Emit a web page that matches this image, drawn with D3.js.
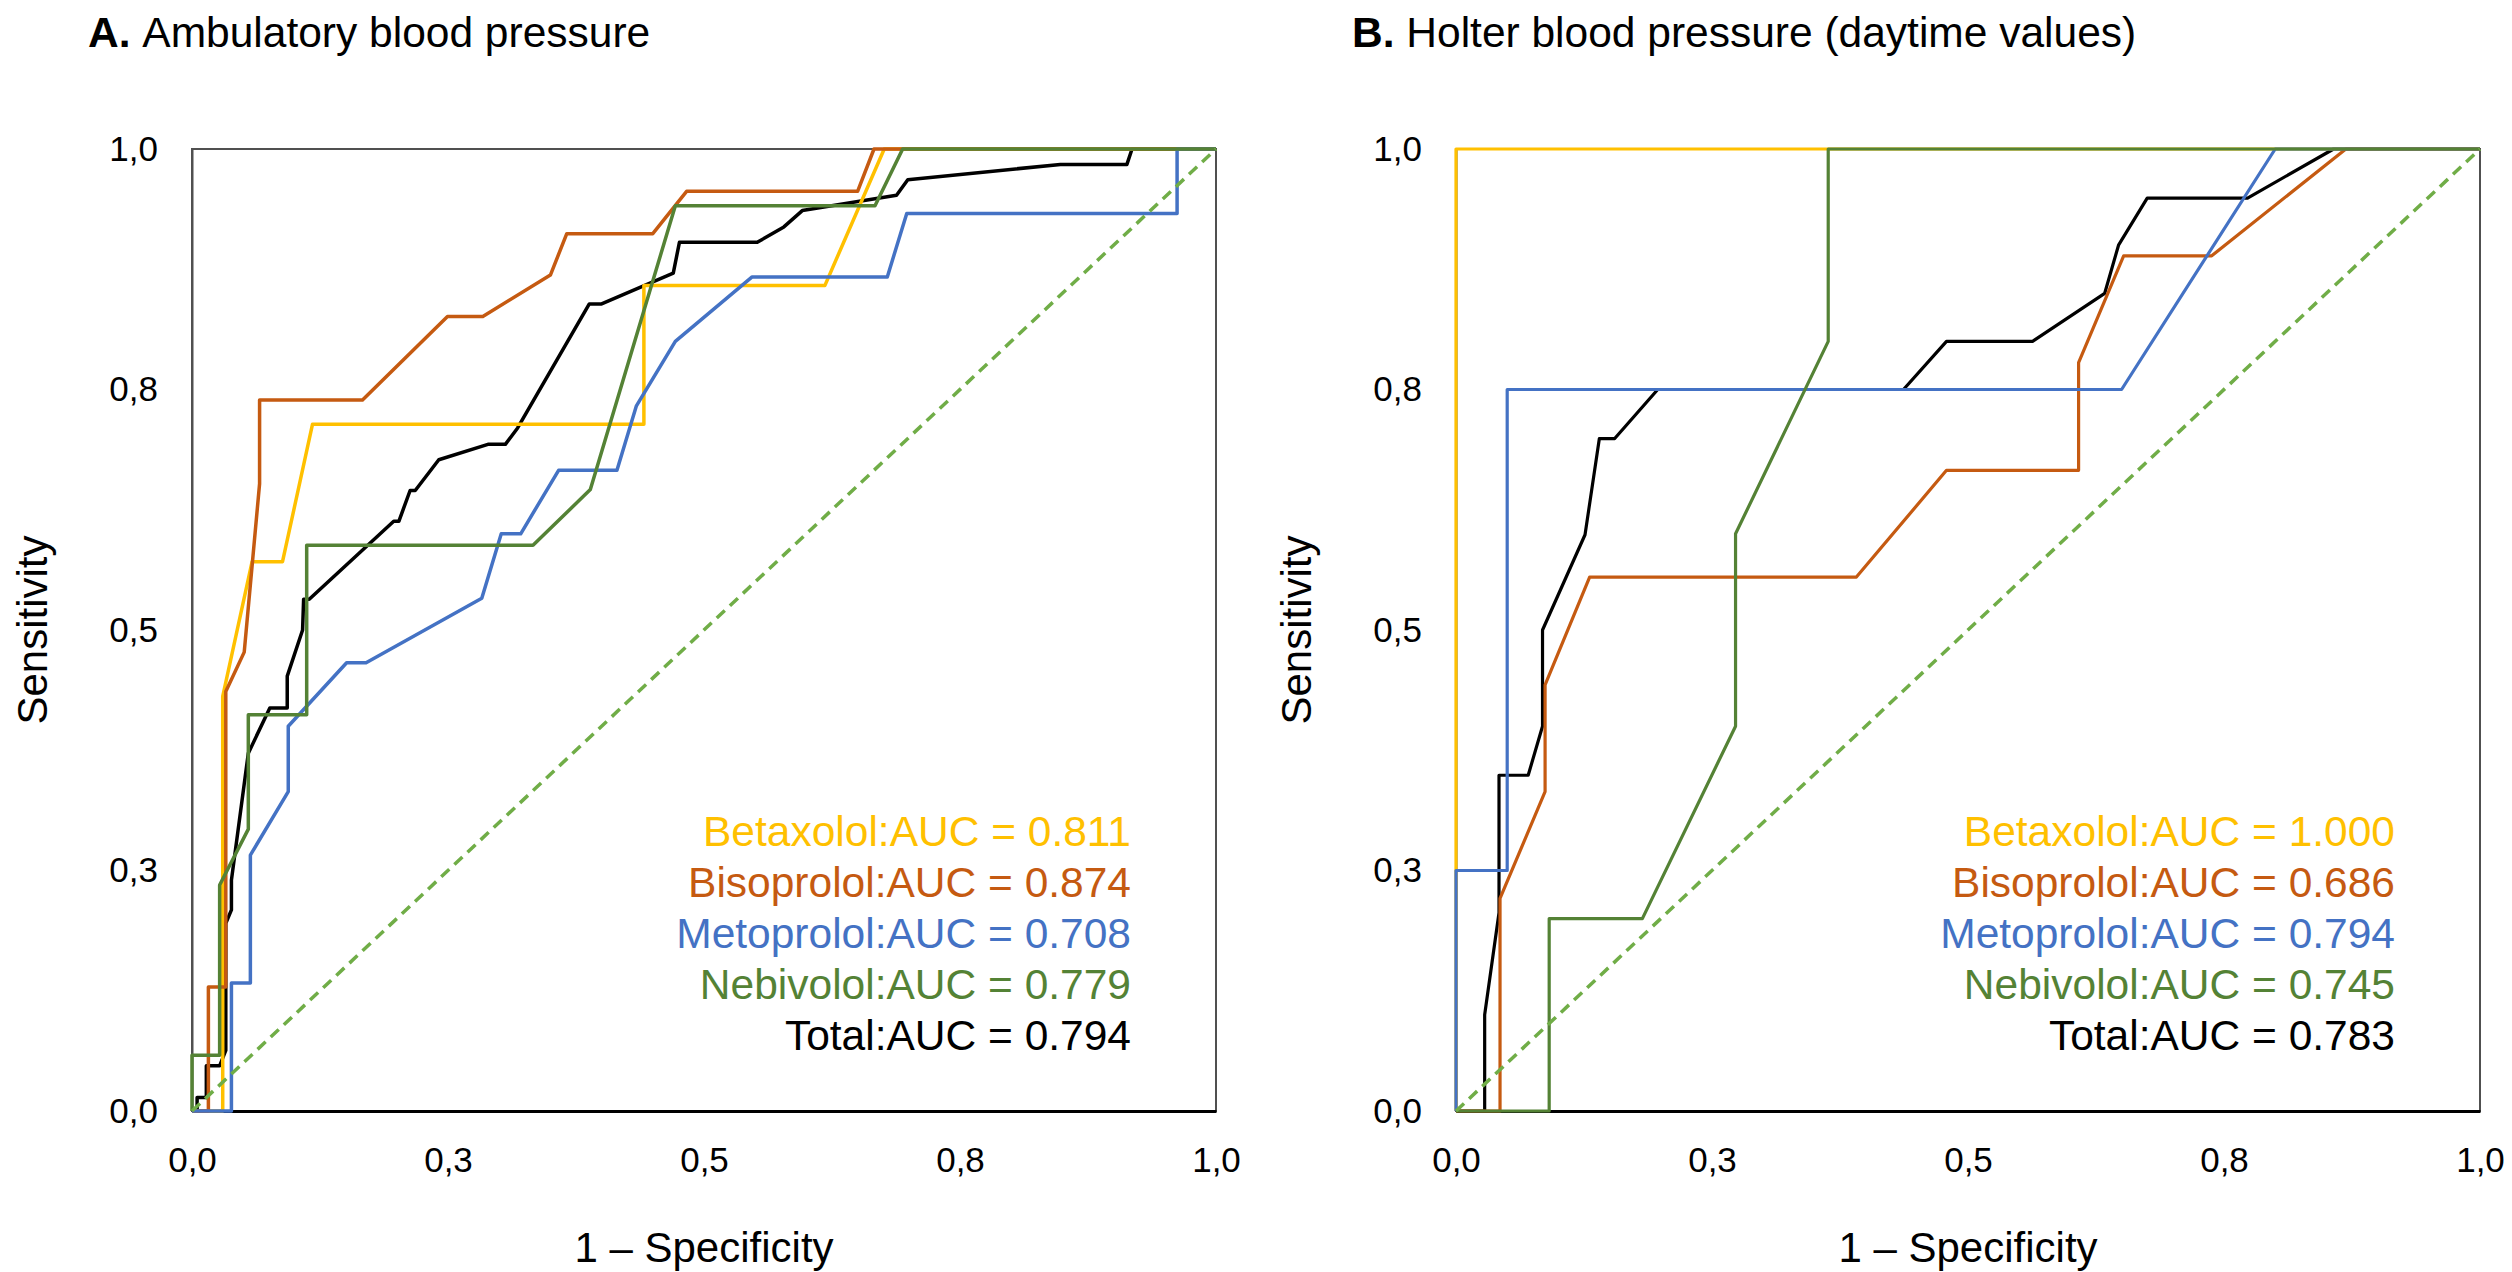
<!DOCTYPE html>
<html>
<head>
<meta charset="utf-8">
<script src="https://cdn.jsdelivr.net/npm/d3@7"></script>
<style>
  body { margin: 0; background: #fff; }
  svg text { font-family: "Liberation Sans", Arial, sans-serif; }
</style>
</head>
<body>
<div id="chart"></div>
<script>
// ROC points as [1 - specificity, sensitivity]

// A. Ambulatory blood pressure
const ambTotal = [[0,0],[0.005,0],[0.005,0.014],[0.014,0.014],[0.014,0.047],[0.027,0.047],[0.033,0.063],[0.033,0.195],
  [0.0385,0.209],[0.0385,0.240],[0.055,0.372],[0.076,0.419],[0.093,0.419],[0.093,0.452],[0.108,0.500],[0.109,0.532],
  [0.1145,0.532],[0.197,0.613],[0.202,0.613],[0.213,0.645],[0.218,0.645],[0.241,0.677],[0.289,0.693],[0.306,0.693],
  [0.318,0.710],[0.388,0.839],[0.400,0.839],[0.470,0.871],[0.476,0.903],[0.552,0.903],[0.578,0.919],[0.596,0.936],
  [0.688,0.952],[0.699,0.968],[0.848,0.984],[0.913,0.984],[0.918,1],[1,1]];
const ambBetaxolol = [[0,0],[0.030,0],[0.030,0.431],[0.0587,0.571],[0.0884,0.571],[0.1177,0.714],[0.4413,0.714],
  [0.4413,0.858],[0.618,0.858],[0.676,1],[1,1]];
const ambBisoprolol = [[0,0],[0.016,0],[0.016,0.129],[0.033,0.129],[0.033,0.436],[0.051,0.477],[0.066,0.652],
  [0.066,0.739],[0.1665,0.739],[0.2495,0.826],[0.284,0.826],[0.350,0.869],[0.366,0.912],[0.450,0.912],[0.483,0.956],
  [0.650,0.956],[0.666,1],[1,1]];
const ambMetoprolol = [[0,0],[0.0385,0],[0.0385,0.133],[0.057,0.133],[0.057,0.266],[0.094,0.332],[0.094,0.400],
  [0.151,0.466],[0.170,0.466],[0.283,0.533],[0.302,0.600],[0.321,0.600],[0.358,0.666],[0.415,0.666],[0.434,0.733],
  [0.472,0.800],[0.547,0.867],[0.679,0.867],[0.698,0.933],[0.962,0.933],[0.962,1],[1,1]];
const ambNebivolol = [[0,0],[0,0.058],[0.027,0.058],[0.027,0.235],[0.055,0.293],[0.055,0.412],[0.112,0.412],
  [0.112,0.588],[0.333,0.588],[0.389,0.646],[0.472,0.941],[0.667,0.941],[0.694,1],[1,1]];

// B. Holter blood pressure (daytime values)
const holTotal = [[0,0],[0.028,0],[0.028,0.100],[0.042,0.206],[0.042,0.349],[0.0705,0.349],[0.0845,0.400],
  [0.0845,0.500],[0.126,0.599],[0.140,0.699],[0.155,0.699],[0.197,0.750],[0.437,0.750],[0.479,0.800],[0.563,0.800],
  [0.6335,0.850],[0.647,0.900],[0.675,0.949],[0.773,0.949],[0.857,1],[1,1]];
const holBetaxolol = [[0,0],[0,1],[1,1]];
const holBisoprolol = [[0,0],[0.043,0],[0.043,0.221],[0.087,0.332],[0.087,0.443],[0.1305,0.555],[0.391,0.555],
  [0.479,0.666],[0.608,0.666],[0.608,0.778],[0.652,0.889],[0.738,0.889],[0.869,1],[1,1]];
const holMetoprolol = [[0,0],[0,0.25],[0.05,0.25],[0.05,0.75],[0.65,0.75],[0.80,1],[1,1]];
const holNebivolol = [[0,0],[0.091,0],[0.091,0.2],[0.182,0.2],[0.273,0.4],[0.273,0.6],[0.3635,0.8],[0.3635,1],[1,1]];

const drugNames = ["Betaxolol", "Bisoprolol", "Metoprolol", "Nebivolol", "Total"];
const drugColors = ["#FFC000", "#C55A11", "#4472C4", "#548235", "#000000"];
const aucAmbulatory = ["0.811", "0.874", "0.708", "0.779", "0.794"];
const aucHolter = ["1.000", "0.686", "0.794", "0.745", "0.783"];

const tickValues = [0, 0.25, 0.5, 0.75, 1];
const tickLabels = ["0,0", "0,3", "0,5", "0,8", "1,0"];

const svg = d3.select("#chart")
  .append("svg")
  .attr("width", 2512)
  .attr("height", 1272);

const plotW = 1024, plotH = 962, plotTop = 149;
const colorScale = d3.scaleOrdinal().domain(drugNames).range(drugColors);

function drawPanel(left, letter, title, curves, aucs, lineWidth) {
  const g = svg.append("g").attr("transform", `translate(${left},${plotTop})`);

  const x = d3.scaleLinear().domain([0, 1]).range([0, plotW]);
  const y = d3.scaleLinear().domain([0, 1]).range([plotH, 0]);

  // frame
  g.append("rect")
    .attr("width", plotW)
    .attr("height", plotH)
    .attr("fill", "none")
    .attr("stroke", "#505050")
    .attr("stroke-width", 2);

  // x axis
  const xAxis = g.append("g")
    .attr("transform", `translate(0,${plotH})`)
    .call(d3.axisBottom(x).tickValues(tickValues).tickFormat((d, i) => tickLabels[i]).tickSize(0).tickPadding(36));
  xAxis.select(".domain").attr("stroke", "#000").attr("stroke-width", 3);
  xAxis.selectAll("text").style("font-size", "35px").attr("fill", "#000");

  // y axis
  const yAxis = g.append("g")
    .call(d3.axisLeft(y).tickValues(tickValues).tickFormat((d, i) => tickLabels[i]).tickSize(0).tickPadding(34));
  yAxis.select(".domain").attr("stroke", "#505050").attr("stroke-width", 2);
  yAxis.selectAll("text").style("font-size", "35px").attr("fill", "#000");

  // axis titles
  g.append("text")
    .attr("x", plotW / 2)
    .attr("y", plotH + 151)
    .attr("text-anchor", "middle")
    .style("font-size", "42px")
    .text("1 \u2013 Specificity");

  g.append("text")
    .attr("transform", "rotate(-90)")
    .attr("x", -plotH / 2)
    .attr("y", -145)
    .attr("text-anchor", "middle")
    .style("font-size", "42px")
    .text("Sensitivity");

  // panel title
  const t = svg.append("text")
    .attr("x", left - 104)
    .attr("y", 47)
    .style("font-size", "42.5px");
  t.append("tspan").style("font-weight", "bold").text(letter + " ");
  t.append("tspan").text(title);

  const line = d3.line().x(d => x(d[0])).y(d => y(d[1]));

  // ROC curves (Total first so the drug curves sit on top)
  const order = ["Total", "Betaxolol", "Bisoprolol", "Metoprolol", "Nebivolol"];
  order.forEach(name => {
    g.append("path")
      .datum(curves[name])
      .attr("d", line)
      .attr("fill", "none")
      .attr("stroke", colorScale(name))
      .attr("stroke-width", lineWidth)
      .attr("stroke-linejoin", "round");
  });

  // reference diagonal
  g.append("path")
    .datum([[0, 0], [1, 1]])
    .attr("d", line)
    .attr("fill", "none")
    .attr("stroke", "#70AD47")
    .attr("stroke-width", 3.5)
    .attr("stroke-dasharray", "11,7");

  // AUC labels
  g.selectAll("text.auc")
    .data(drugNames)
    .enter()
    .append("text")
    .attr("class", "auc")
    .attr("x", 939)
    .attr("y", (d, i) => 697 + i * 51)
    .attr("text-anchor", "end")
    .style("font-size", "42.5px")
    .attr("fill", d => colorScale(d))
    .text((d, i) => `${d}:AUC = ${aucs[i]}`);
}

drawPanel(192, "A.", "Ambulatory blood pressure",
  { Total: ambTotal, Betaxolol: ambBetaxolol, Bisoprolol: ambBisoprolol, Metoprolol: ambMetoprolol, Nebivolol: ambNebivolol },
  aucAmbulatory, 3.5);

drawPanel(1456, "B.", "Holter blood pressure (daytime values)",
  { Total: holTotal, Betaxolol: holBetaxolol, Bisoprolol: holBisoprolol, Metoprolol: holMetoprolol, Nebivolol: holNebivolol },
  aucHolter, 3.2);
</script>
</body>
</html>
